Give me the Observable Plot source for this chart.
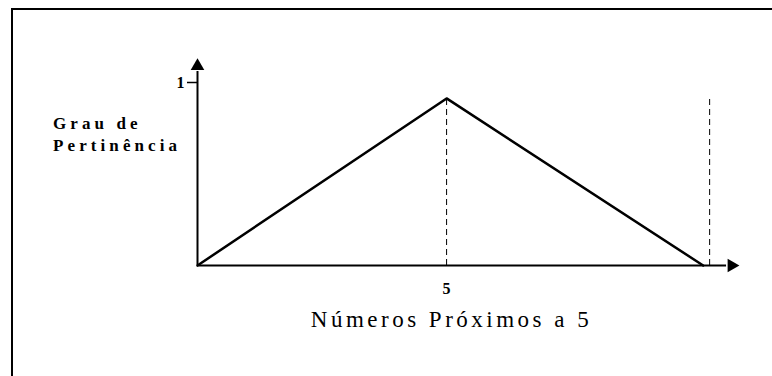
<!DOCTYPE html>
<html>
<head>
<meta charset="utf-8">
<script src="https://cdn.jsdelivr.net/npm/d3@7"></script>
<script src="https://cdn.jsdelivr.net/npm/@observablehq/plot@0.6"></script>
<style>
  html, body { margin: 0; padding: 0; background: #fff; }
  #wrap { position: relative; width: 772px; height: 376px; overflow: hidden; font-family: 'Liberation Serif', 'Times New Roman', serif; }
  #border { position: absolute; left: 11px; top: 8px; width: 770px; height: 380px; border-left: 2px solid #000; border-top: 2px solid #000; box-sizing: border-box; }
  #chart { position: absolute; left: 0; top: 0; }
  #ylabel { position: absolute; left: 53px; top: 113px; font-size: 17px; font-weight: bold; letter-spacing: 4.1px; line-height: 22px; color: #000; }
  #xlabel { position: absolute; left: 0; width: 903px; top: 307px; text-align: center; font-size: 23px; letter-spacing: 3.5px; color: #000; }
  #chart svg text { font-weight: bold; font-family: 'Liberation Serif', 'Times New Roman', serif; }
</style>
</head>
<body>
<div id="wrap">
  <div id="border"></div>
  <div id="chart"></div>
  <div id="ylabel">Grau de<br>Pertinência</div>
  <div id="xlabel">Números Próximos a 5</div>
</div>
<script>
// Membership function "Números Próximos a 5"
const pointX = [0, 5, 10.15];
const pointY = [0, 0.913, 0];
const guideX = [5, 10.28];
const guideTop = [0.913, 0.92];
const xTicks = [5];
const yTicks = [1];
const axisEndX = 10.72;
const axisEndY = 1.09;

const tri = pointX.map((x, i) => ({x, y: pointY[i]}));
const guides = guideX.map((x, i) => ({x, top: guideTop[i]}));

const chart = Plot.plot({
  width: 772,
  height: 376,
  marginLeft: 197,
  marginRight: 27,
  marginTop: 82,
  marginBottom: 111,
  x: {domain: [0, 11]},
  y: {domain: [0, 1]},
  style: {fontSize: "15px", color: "#000", background: "transparent"},
  marks: [
    Plot.axisY({ticks: yTicks, tickFormat: d => String(d), tickSize: 10, tickPadding: 3, label: null, strokeWidth: 1.5, fontSize: 16}),
    Plot.axisX({ticks: xTicks, tickFormat: d => String(d), tickSize: 0, tickPadding: 17, label: null, fontSize: 16}),
    Plot.ruleX(guides, {x: "x", y1: 0, y2: "top", stroke: "#000", strokeWidth: 1, strokeDasharray: "6,4"}),
    Plot.ruleY([0], {x1: 0, x2: axisEndX - 0.1, stroke: "#000", strokeWidth: 2}),
    Plot.ruleX([0], {y1: 0, y2: axisEndY - 0.03, stroke: "#000", strokeWidth: 2}),
    Plot.dot([{x: axisEndX, y: 0}], {x: "x", y: "y", symbol: "triangle2", r: 6.5, fill: "#000", rotate: 90}),
    Plot.dot([{x: 0, y: axisEndY}], {x: "x", y: "y", symbol: "triangle2", r: 6.5, fill: "#000"}),
    Plot.line(tri, {x: "x", y: "y", stroke: "#000", strokeWidth: 2.5})
  ]
});
document.getElementById("chart").appendChild(chart);
</script>
</body>
</html>
